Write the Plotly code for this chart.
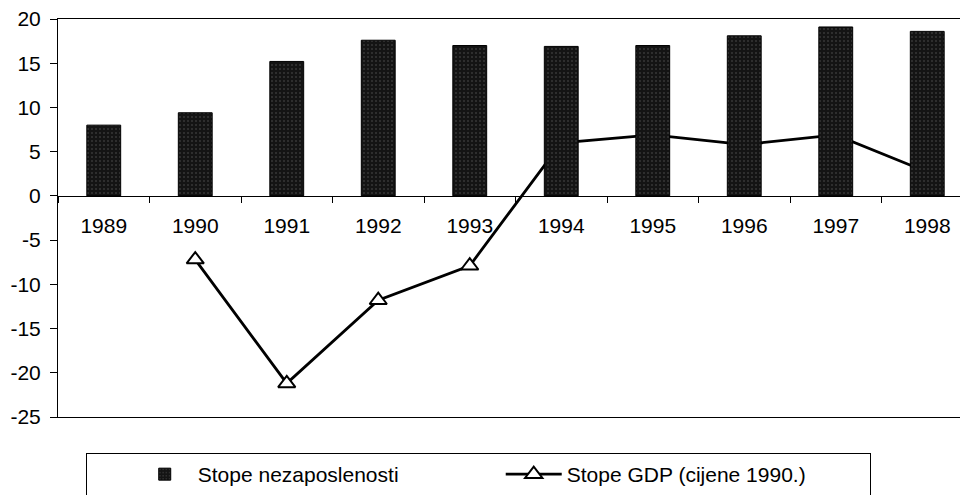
import plotly.graph_objects as go

years = ["1989", "1990", "1991", "1992", "1993", "1994", "1995", "1996", "1997", "1998"]
unemployment = [8.0, 9.4, 15.2, 17.6, 17.0, 16.9, 17.0, 18.1, 19.1, 18.6]
gdp_growth = [None, -7.2, -21.2, -11.8, -7.9, 6.0, 6.9, 5.8, 6.9, 2.7]
y_ticks = [20, 15, 10, 5, 0, -5, -10, -15, -20, -25]
y_tick_labels = ["20", "15", "10", "5", "0", "-5", "-10", "-15", "-20", "-25"]

bar_name = "Stope nezaposlenosti"
line_name = "Stope GDP (cijene 1990.)"

FONT = "Liberation Sans, Arial, sans-serif"
YMIN, YMAX = -25, 20
XRANGE = [-0.5, 9.5]

fig = go.Figure()

# line (drawn on base y axis, so it sits beneath the bars)
fig.add_trace(go.Scatter(
    x=years, y=gdp_growth, name=line_name, mode="lines+markers",
    line=dict(color="black", width=2.8),
    marker=dict(symbol="triangle-up", size=15, color="white",
                line=dict(color="black", width=2)),
    xaxis="x", yaxis="y", legendrank=2,
))

# bars on overlaying axis (drawn on top of line)
fig.add_trace(go.Bar(
    x=years, y=unemployment, name=bar_name, width=0.37,
    marker=dict(color="#141414", line=dict(color="black", width=1),
                pattern=dict(shape=".", fgcolor="#5a5a5a", bgcolor="#141414",
                             size=4, solidity=0.2)),
    xaxis="x", yaxis="y2", legendrank=1,
))

# invisible helper for the category axis crossing at zero
fig.add_trace(go.Scatter(
    x=years, y=unemployment, mode="markers", marker=dict(opacity=0),
    hoverinfo="skip", showlegend=False, xaxis="x2", yaxis="y",
))

zero_pos = (0 - YMIN) / (YMAX - YMIN)
tfont = dict(family=FONT, size=21, color="black")

fig.update_layout(
    width=968, height=495,
    margin=dict(l=50, r=3, t=11, b=86, autoexpand=False),
    paper_bgcolor="white", plot_bgcolor="white",
    font=dict(family=FONT, size=21, color="black"),
    showlegend=True,
    xaxis=dict(
        type="category", categoryorder="array", categoryarray=years,
        range=XRANGE, showline=True, linecolor="black", linewidth=1,
        mirror=True, ticks="", showticklabels=False, showgrid=False,
        zeroline=False, automargin=False,
    ),
    xaxis2=dict(
        type="category", categoryorder="array", categoryarray=years,
        overlaying="x", anchor="free", position=zero_pos, range=XRANGE,
        showline=True, linecolor="black", linewidth=1,
        ticks="outside", tickson="boundaries", ticklen=6, tickcolor="black",
        tickwidth=1, ticklabelstandoff=11, showgrid=False, zeroline=False,
        tickfont=tfont, automargin=False, ticklabeloverflow="allow",
    ),
    yaxis=dict(
        range=[YMIN, YMAX], tickvals=y_ticks, ticktext=y_tick_labels,
        showline=True, linecolor="black",
        linewidth=1, ticks="outside", ticklen=7, tickcolor="black",
        showgrid=False, zeroline=False, ticklabelstandoff=5, automargin=False,
        tickfont=tfont, ticklabeloverflow="allow",
    ),
    yaxis2=dict(
        range=[YMIN, YMAX], overlaying="y", visible=False,
    ),
    legend=dict(
        orientation="h", x=0.0306, xanchor="left", y=-0.0905, yanchor="top",
        bordercolor="black", borderwidth=1, bgcolor="white",
        font=tfont,
        title=dict(text="&nbsp;" * 5, side="left"),
        itemwidth=56, entrywidth=298, traceorder="normal",
    ),
)

fig.write_html("out.html")
